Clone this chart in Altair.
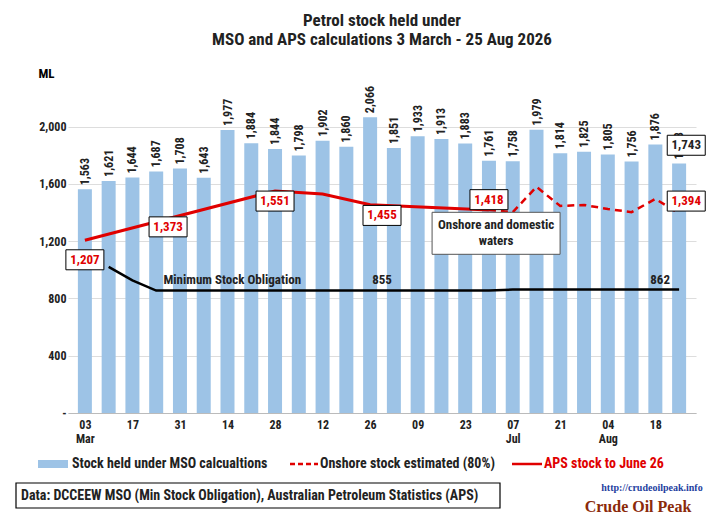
import altair as alt
import pandas as pd

days = ['03', '10', '17', '24', '31', '07', '14', '21', '28', '05', '12', '19', '26',
        '02', '09', '16', '23', '30', '07', '14', '21', '28', '04', '11', '18', '25']
months = ['Mar', '', '', '', '', 'Apr', '', '', '', 'May', '', '', '', 'Jun', '', '', '', '',
          'Jul', '', '', '', 'Aug', '', '', '']
mso_stock = [1563, 1621, 1644, 1687, 1708, 1643, 1977, 1884, 1844, 1798, 1902, 1860, 2066,
             1851, 1933, 1913, 1883, 1761, 1758, 1979, 1814, 1825, 1805, 1756, 1876, 1743]

aps_idx = [0, 8, 10, 12, 17]
aps_val = [1207, 1551, 1530, 1455, 1418]

est_idx = [17, 18, 19, 20, 21, 22, 23, 24, 25]
est_val = [1418, 1403, 1579, 1446, 1453, 1425, 1403, 1495, 1394]

min_idx = [1, 2, 3, 4, 5, 6, 7, 8, 9, 10, 11, 12, 13, 14, 15, 16, 17,
           18, 19, 20, 21, 22, 23, 24, 25]
min_val = [1020, 926, 855, 855, 855, 855, 855, 855, 855, 855, 855, 855, 855, 855, 855, 855, 855,
           862, 862, 862, 862, 862, 862, 862, 862]

# boxed red labels: text, label x, label y
box_txt = ['1,207', '1,373', '1,551', '1,455', '1,418', '1,394']
box_x = [0, 3.5, 8, 12.5, 17, 25.3]
box_y = [1070, 1300, 1480, 1380, 1490, 1480]
BLUE = '#9DC3E6'
RED = '#E00000'
FONT = 'Liberation Sans Narrow, Roboto Condensed, Roboto'
W, H = 628, 315

bars = pd.DataFrame({'i': range(len(days)), 'v': mso_stock,
                     'lbl': [f'{v:,}' for v in mso_stock]})
aps = pd.DataFrame({'i': aps_idx, 'v': aps_val})
est = pd.DataFrame({'i': est_idx, 'v': est_val})
mso_min = pd.DataFrame({'i': min_idx, 'v': min_val})
boxes = pd.DataFrame({'i': box_x, 'v': box_y, 't': box_txt})

day_js = str(days).replace("'", '"')
mon_js = str(months).replace("'", '"')

x = alt.X('i:Q', scale=alt.Scale(domain=[-0.5, 25.5], nice=False), title=None,
          axis=alt.Axis(values=list(range(26)), grid=False, ticks=False, domainColor='#bbb',
                        labelOverlap=False,
                        labelExpr=f'[{day_js}[datum.value], {mon_js}[datum.value]]',
                        labelFont=FONT, labelFontSize=12, labelFontWeight='bold',
                        labelColor='#222', labelPadding=6))
y = alt.Y('v:Q', scale=alt.Scale(domain=[0, 2200], nice=False), title='ML',
          axis=alt.Axis(values=list(range(0, 2201, 100)), gridColor='#ddd', ticks=False,
                        domain=False, labelOverlap=False, labelFont=FONT, labelFontSize=12,
                        labelFontWeight='bold', labelColor='#222',
                        labelExpr="datum.value == 0 ? '-' : format(datum.value, ',')",
                        titleAngle=0, titleX=-22, titleY=-18, titleFont=FONT,
                        titleFontSize=13, titleFontWeight='bold'))

base = alt.Chart(bars)
bar = base.mark_bar(color=BLUE, size=14).encode(x=x, y=y)
bar_lbl = base.mark_text(angle=270, align='left', baseline='middle', dx=4, font=FONT,
                         fontSize=12, fontWeight='bold', color='#222').encode(
    x='i:Q', y='v:Q', text='lbl:N')

mso_line = alt.Chart(mso_min).mark_line(color='black', strokeWidth=2.5).encode(x='i:Q', y='v:Q')
aps_line = alt.Chart(aps).mark_line(color=RED, strokeWidth=3).encode(x='i:Q', y='v:Q')
est_line = alt.Chart(est).mark_line(color=RED, strokeWidth=2.5, strokeDash=[7, 5]).encode(
    x='i:Q', y='v:Q')

box_rect = alt.Chart(boxes).mark_rect(width=38, height=20, fill='white', stroke='black',
                                      strokeWidth=1).encode(x='i:Q', y='v:Q')
box_text = alt.Chart(boxes).mark_text(font=FONT, fontSize=13, fontWeight='bold',
                                      color=RED).encode(x='i:Q', y='v:Q', text='t:N')

misc = pd.DataFrame({'i': [6.2, 12.5, 24.2], 'v': [930, 930, 930],
                     't': ['Minimum Stock Obligation', '855', '862']})
misc_text = alt.Chart(misc).mark_text(font=FONT, fontSize=13, fontWeight='bold',
                                      color='#222').encode(x='i:Q', y='v:Q', text='t:N')

last = pd.DataFrame({'i': [25.3], 'v': [1870], 't': ['1,743']})
last_rect = alt.Chart(last).mark_rect(width=38, height=20, fill='white', stroke='black').encode(
    x='i:Q', y='v:Q')
last_text = alt.Chart(last).mark_text(font=FONT, fontSize=13, fontWeight='bold',
                                      color='#222').encode(x='i:Q', y='v:Q', text='t:N')

onshore = pd.DataFrame({'i': [17.3, 17.3], 'v': [1310, 1200],
                        't': ['Onshore and domestic', 'waters']})
on_rect = alt.Chart(pd.DataFrame({'i': [17.3], 'v': [1255]})).mark_rect(
    width=128, height=42, fill='white', stroke='#555').encode(x='i:Q', y='v:Q')
on_text = alt.Chart(onshore).mark_text(font=FONT, fontSize=13, fontWeight='bold',
                                       color='#222').encode(x='i:Q', y='v:Q', text='t:N')

# legend and footer drawn in pixel space below the plot
legend = alt.Chart(pd.DataFrame({'a': [0]})).mark_rect(color=BLUE).encode(
    x=alt.value(-30), x2=alt.value(0), y=alt.value(H + 47), y2=alt.value(H + 55))
leg_dash = alt.Chart(pd.DataFrame({'a': [0]})).mark_rule(
    color=RED, strokeWidth=2.5, strokeDash=[5, 3]).encode(
    x=alt.value(222), x2=alt.value(250), y=alt.value(H + 51))
leg_solid = alt.Chart(pd.DataFrame({'a': [0]})).mark_rule(color=RED, strokeWidth=2.5).encode(
    x=alt.value(444), x2=alt.value(474), y=alt.value(H + 51))
leg_txt = pd.DataFrame({'x': [4, 252, 476], 't': ['Stock held under MSO calcualtions',
                                                'Onshore stock estimated (80%)',
                                                'APS stock to June 26'],
                        'c': ['#222', '#222', RED]})
leg_text = alt.Chart(leg_txt).mark_text(align='left', font=FONT, fontSize=14,
                                        fontWeight='bold').encode(
    x=alt.X('x:Q', scale=None), y=alt.value(H + 51), text='t:N',
    color=alt.Color('c:N', scale=None))

src_rect = alt.Chart(pd.DataFrame({'a': [0]})).mark_rect(
    fill='white', stroke='black', strokeWidth=1.2).encode(
    x=alt.value(-52), x2=alt.value(432), y=alt.value(H + 70), y2=alt.value(H + 95))
src_text = alt.Chart(pd.DataFrame({'t': ['Data: DCCEEW MSO (Min Stock Obligation), '
                                         'Australian Petroleum Statistics (APS)']})).mark_text(
    align='left', font=FONT, fontSize=14, fontWeight='bold', color='#222').encode(
    x=alt.value(-47), y=alt.value(H + 83), text='t:N')
logo = pd.DataFrame({'x': [584, 570], 'y': [H + 75, H + 94],
                     't': ['http://crudeoilpeak.info', 'Crude Oil Peak'],
                     's': [10, 16], 'c': ['#1F3F9F', '#8B2A0A']})
logo_text = alt.Chart(logo).mark_text(font='Liberation Serif', fontWeight='bold').encode(
    x=alt.X('x:Q', scale=None), y=alt.Y('y:Q', scale=None), text='t:N',
    size=alt.Size('s:Q', scale=None), color=alt.Color('c:N', scale=None))

chart = alt.layer(
    bar, bar_lbl, mso_line, aps_line, est_line, box_rect, box_text, misc_text,
    last_rect, last_text, on_rect, on_text,
    legend, leg_dash, leg_solid, leg_text, src_rect, src_text, logo_text
).properties(
    width=W, height=H,
    title=alt.Title(['Petrol stock held under', 'MSO and APS calculations 3 March - 25  Aug 2026'],
                    font=FONT, fontSize=17, fontWeight='bold', color='#222',
                    anchor='middle', offset=18),
    autosize=alt.AutoSizeParams(type='none'),
    padding={'left': 60, 'top': 90, 'right': 14, 'bottom': 110}
).configure_view(stroke=None)

chart.save('out.html', embed_options={'renderer': 'svg', 'actions': False})
